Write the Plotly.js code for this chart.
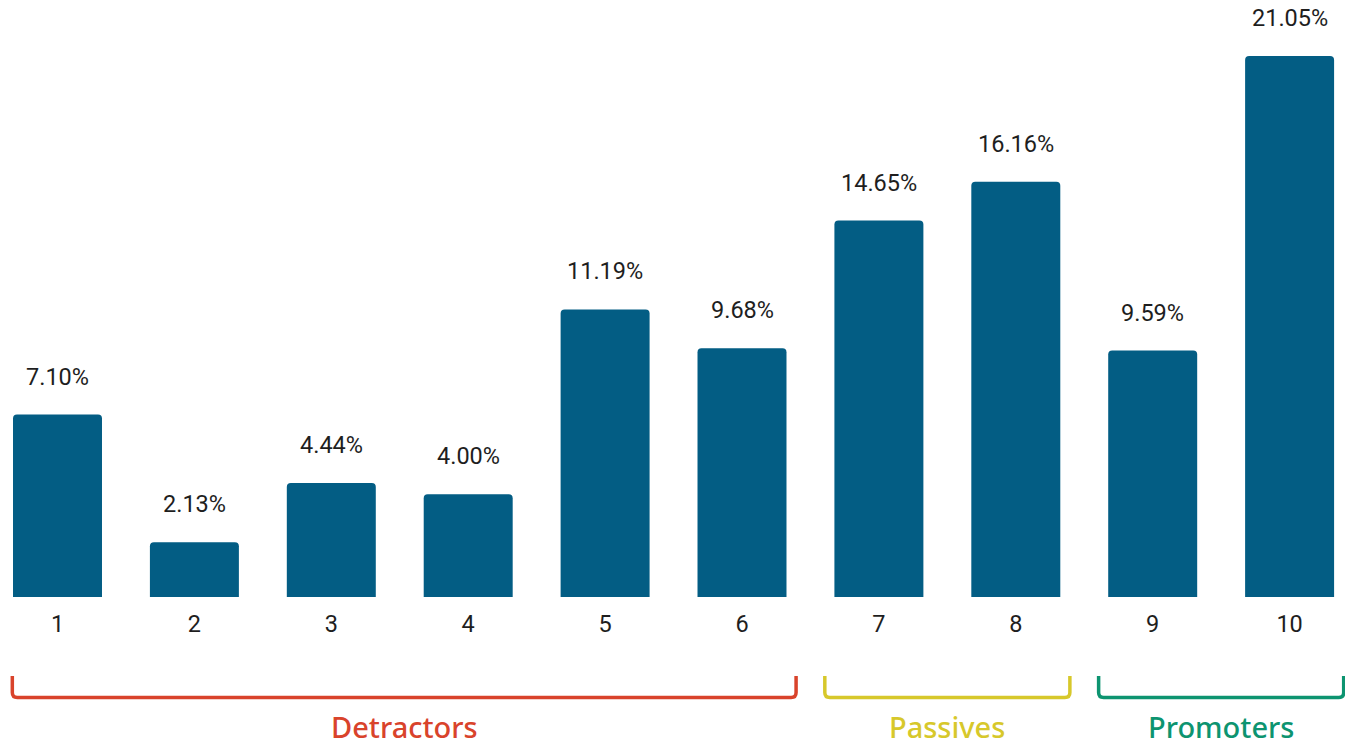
<!DOCTYPE html>
<html>
<head>
<meta charset="utf-8">
<script src="https://cdn.plot.ly/plotly-3.0.1.min.js"></script>
<style>
  html, body { margin: 0; padding: 0; background: #ffffff; }
  #chart { width: 1345px; height: 747px; }
</style>
</head>
<body>
<div id="chart"></div>
<script>
// NPS score distribution (share of respondents per score)
const scores = [1, 2, 3, 4, 5, 6, 7, 8, 9, 10];
const shares = [7.10, 2.13, 4.44, 4.00, 11.19, 9.68, 14.65, 16.16, 9.59, 21.05];
const tickLabels = ['1', '2', '3', '4', '5', '6', '7', '8', '9', '10'];

// Respondent groups: first and last score of each
const groupNames = ['Detractors', 'Passives', 'Promoters'];
const groupFirst = [1, 7, 9];
const groupLast = [6, 8, 10];
const groupColors = ['#d9432b', '#d7c82b', '#0d9470'];

const barColor = '#035d84';
const plotH = 597;            // plot area height in px (bottom margin holds the brackets)
const pxPerUnit = 136.9;      // horizontal px per score step
const pxToPaper = p => (plotH - p) / plotH;

const barTrace = {
  type: 'bar',
  x: scores,
  y: shares,
  marker: { color: barColor, cornerradius: 4 },
  hoverinfo: 'x+y',
  showlegend: false
};

// value labels above each bar
const valueAnnotations = scores.map((s, i) => ({
  x: s,
  y: shares[i],
  xref: 'x',
  yref: 'y',
  text: shares[i].toFixed(2) + '%',
  showarrow: false,
  yanchor: 'middle',
  yshift: 38,
  font: { family: 'Roboto', size: 23.5, color: '#1e1e1e' }
}));

// brackets under each group of scores
const pad = 0.395;
const firstEdge = scores[0] - 0.33;
const rx = 5 / pxPerUnit;
const ry = 5 / plotH;
const yTop = pxToPaper(676);
const yBot = pxToPaper(697.5);

const bracketShapes = groupNames.map((g, i) => {
  const x0 = Math.max(groupFirst[i] - pad, firstEdge);
  const x1 = groupLast[i] + pad;
  const path = `M ${x0},${yTop} L ${x0},${yBot + ry} Q ${x0},${yBot} ${x0 + rx},${yBot} ` +
               `L ${x1 - rx},${yBot} Q ${x1},${yBot} ${x1},${yBot + ry} L ${x1},${yTop}`;
  return {
    type: 'path',
    xref: 'x',
    yref: 'paper',
    path: path,
    line: { color: groupColors[i], width: 3.5 }
  };
});

const groupAnnotations = groupNames.map((g, i) => {
  const x0 = Math.max(groupFirst[i] - pad, firstEdge);
  const x1 = groupLast[i] + pad;
  return {
    x: (x0 + x1) / 2,
    y: pxToPaper(747),
    xref: 'x',
    yref: 'paper',
    text: g,
    showarrow: false,
    yanchor: 'bottom',
    borderpad: 0,
    font: { family: 'Noto Sans', size: 29, color: groupColors[i], weight: 500 }
  };
});

const xMin = scores[0] - 57.5 / pxPerUnit;
const xMax = xMin + 1345 / pxPerUnit;

const layout = {
  width: 1345,
  height: 747,
  margin: { l: 0, r: 0, t: 0, b: 747 - plotH, pad: 0 },
  paper_bgcolor: '#ffffff',
  plot_bgcolor: '#ffffff',
  bargap: 0.35,
  xaxis: {
    type: 'linear',
    range: [xMin, xMax],
    tickmode: 'array',
    tickvals: scores,
    ticktext: tickLabels,
    showgrid: false,
    zeroline: false,
    showline: false,
    ticks: '',
    ticklabelstandoff: 10,
    tickfont: { family: 'Roboto', size: 23.5, color: '#1e1e1e' },
    fixedrange: true
  },
  yaxis: {
    range: [0, plotH / 25.7],
    visible: false,
    showgrid: false,
    zeroline: false,
    fixedrange: true
  },
  shapes: bracketShapes,
  annotations: valueAnnotations.concat(groupAnnotations),
  showlegend: false
};

Plotly.newPlot('chart', [barTrace], layout, { displayModeBar: false, staticPlot: true });
</script>
</body>
</html>
